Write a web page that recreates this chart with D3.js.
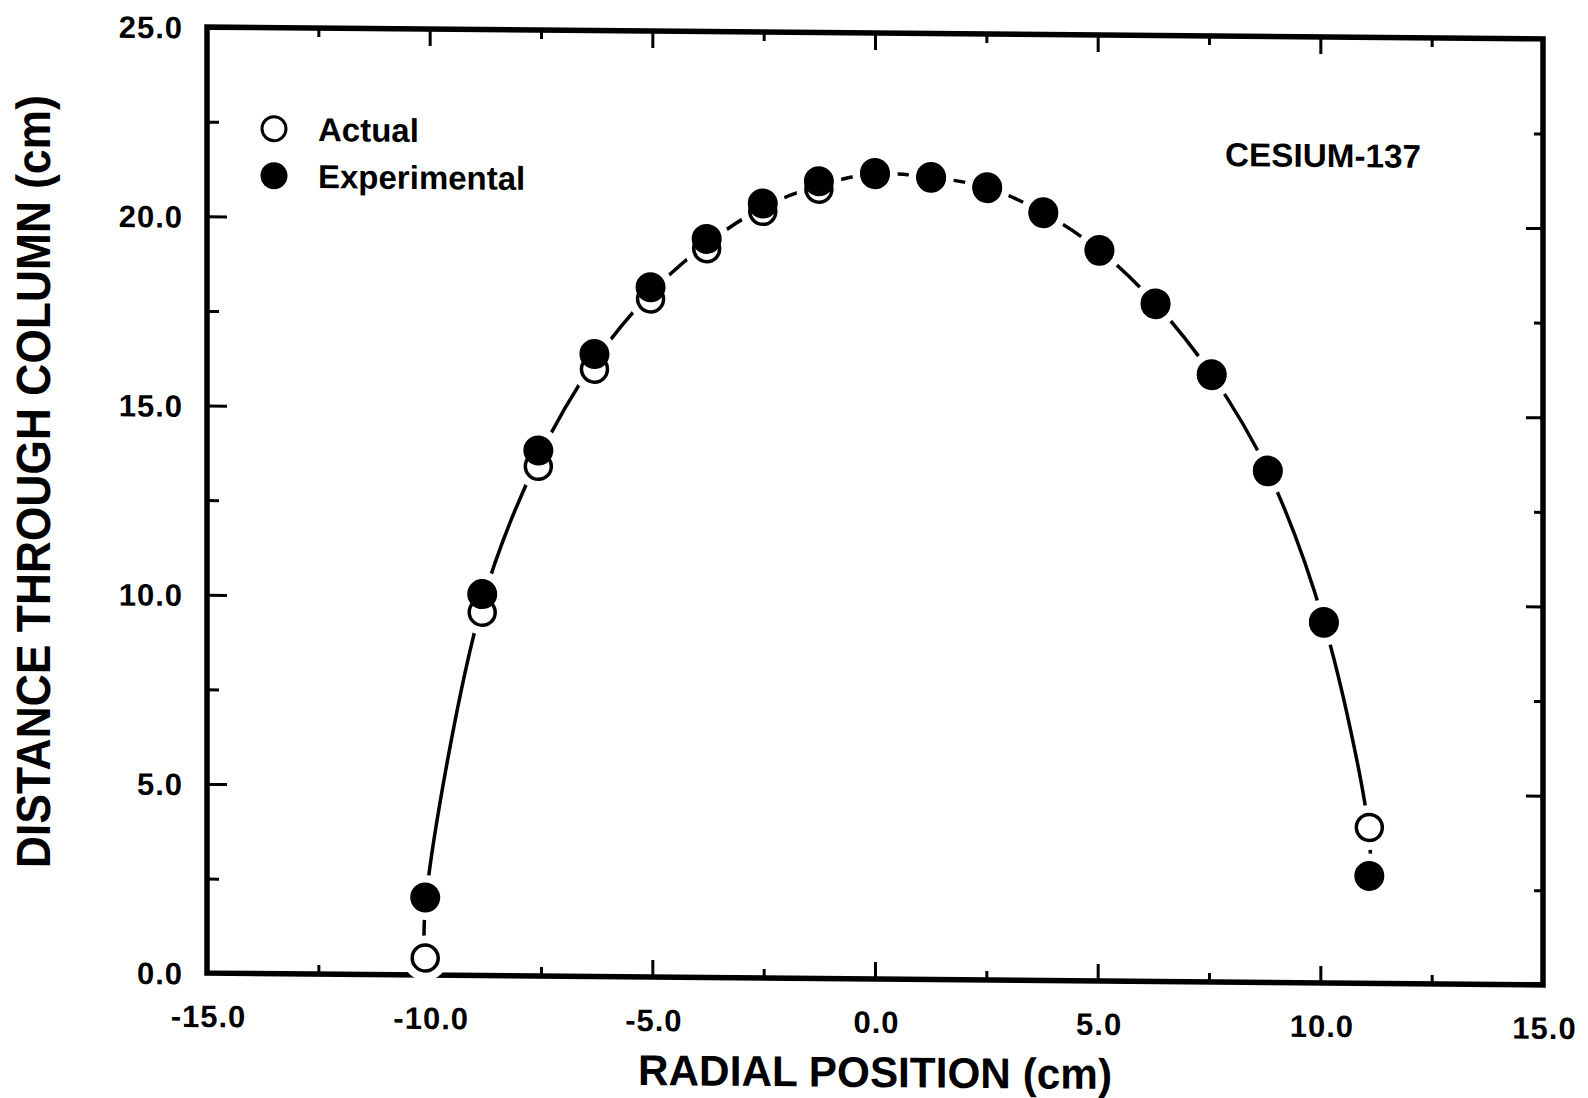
<!DOCTYPE html>
<html>
<head>
<meta charset="utf-8">
<script src="https://cdnjs.cloudflare.com/ajax/libs/d3/7.8.5/d3.min.js"></script>
<style>
  html, body { margin: 0; padding: 0; background: #fff; }
  svg { display: block; }
  .tick-label { font-family: 'Liberation Sans', Arial, sans-serif; font-weight: bold; font-size: 31px; letter-spacing: 1px; fill: #000; }
  .title { font-family: 'Liberation Sans', Arial, sans-serif; font-weight: bold; fill: #000; }
</style>
</head>
<body>
<div class="chart-container"></div>
<script>
// radial positions of the scan (cm)
const radialPositions = [-10.1, -8.82, -7.56, -6.3, -5.04, -3.78, -2.52, -1.26, 0,
                         1.26, 2.52, 3.78, 5.04, 6.3, 7.56, 8.82, 10.08, 11.1];
const actualValues = [0.45, 9.6, 13.47, 16.05, 17.92, 19.26, 20.26, 20.86, 21.26,
                      21.18, 20.92, 20.27, 19.29, 17.89, 16.03, 13.5, 9.51, 4.12];
const experimentalValues = [2.05, 10.08, 13.89, 16.45, 18.23, 19.52, 20.47, 21.07, 21.3,
                            21.21, 20.95, 20.3, 19.32, 17.92, 16.06, 13.53, 9.54, 2.84];
// the drawn curve (runs between the two sets, ends on the lowest points)
const curveX = [-10.12, -10.08, -8.82, -7.56, -6.3, -5.04, -3.78, -2.52, -1.26, 0,
                1.26, 2.52, 3.78, 5.04, 6.3, 7.56, 8.82, 10.08, 11.08, 11.12];
const curveY = [0.45, 2.05, 9.84, 13.68, 16.25, 18.07, 19.39, 20.36, 20.96, 21.28,
                21.2, 20.94, 20.29, 19.31, 17.91, 16.05, 13.52, 9.53, 4.12, 2.84];
const xTickValues = [-15, -10, -5, 0, 5, 10, 15];
const xMinorValues = [-12.5, -7.5, -2.5, 2.5, 7.5, 12.5];
const yTickValues = [0, 5, 10, 15, 20, 25];
const yMinorValues = [2.5, 7.5, 12.5, 17.5, 22.5];
const legendLabels = ['Actual', 'Experimental'];

const svgWidth = 1588;
const svgHeight = 1098;
const plot = { left: 207, right: 1543, top: 33, bottom: 979 };
const skew = 0.0088;   // the scanned page runs slightly downhill
const majorTick = 17;
const minorTick = 9;

let svg = d3.select('.chart-container').append('svg')
   .attr('width', svgWidth)
   .attr('height', svgHeight);

let cx = (plot.left + plot.right) / 2;
let root = svg.append('g')
   .attr('transform', `translate(0, ${-skew * cx}) skewY(${Math.atan(skew) * 180 / Math.PI})`);

let x = d3.scaleLinear().domain([-15, 15]).range([plot.left, plot.right]);
let y = d3.scaleLinear().domain([0, 25]).range([plot.bottom, plot.top]);
let width = plot.right - plot.left;
let height = plot.bottom - plot.top;

function tickAxis(axisFn, scale, values, size, transform) {
   let g = root.append('g')
      .attr('transform', transform)
      .call(axisFn(scale).tickValues(values).tickSizeInner(-size).tickSizeOuter(0).tickFormat(''));
   g.select('.domain').remove();
   g.selectAll('.tick line').attr('stroke', '#000').attr('stroke-width', 3);
   return g;
}

// ticks on all four sides, pointing inward
tickAxis(d3.axisBottom, x, xTickValues.slice(1, -1), majorTick, `translate(0, ${plot.bottom})`);
tickAxis(d3.axisBottom, x, xMinorValues, minorTick, `translate(0, ${plot.bottom})`);
tickAxis(d3.axisTop, x, xTickValues.slice(1, -1), majorTick, `translate(0, ${plot.top})`);
tickAxis(d3.axisTop, x, xMinorValues, minorTick, `translate(0, ${plot.top})`);
tickAxis(d3.axisLeft, y, yTickValues.slice(1, -1), majorTick + 3, `translate(${plot.left}, 0)`);
tickAxis(d3.axisLeft, y, yMinorValues, minorTick + 3, `translate(${plot.left}, 0)`);
tickAxis(d3.axisRight, y, yTickValues.slice(1, -1), majorTick, `translate(${plot.right}, 0)`);
tickAxis(d3.axisRight, y, yMinorValues, minorTick, `translate(${plot.right}, 0)`);

// frame
root.append('rect')
   .attr('x', plot.left)
   .attr('y', plot.top)
   .attr('width', width)
   .attr('height', height)
   .attr('fill', 'none')
   .attr('stroke', '#000')
   .attr('stroke-width', 5.5);

// tick labels
let xLabels = root.append('g')
   .attr('transform', `translate(0, ${plot.bottom})`)
   .call(d3.axisBottom(x).tickValues(xTickValues).tickSize(0).tickFormat(d => d.toFixed(1)));
xLabels.select('.domain').remove();
xLabels.selectAll('text')
   .attr('class', 'tick-label')
   .attr('y', 54)
   .attr('dy', null)
   .attr('dx', 1);

let yLabels = root.append('g')
   .attr('transform', `translate(${plot.left}, 0)`)
   .call(d3.axisLeft(y).tickValues(yTickValues).tickSize(0).tickFormat(d => d.toFixed(1)));
yLabels.select('.domain').remove();
yLabels.selectAll('text')
   .attr('class', 'tick-label')
   .attr('x', -24)
   .attr('dy', 11);

// axis titles
root.append('text')
   .attr('class', 'title')
   .attr('x', x(0))
   .attr('y', 1087)
   .attr('text-anchor', 'middle')
   .attr('font-size', 43)
   .attr('textLength', 474)
   .attr('lengthAdjust', 'spacingAndGlyphs')
   .text('RADIAL POSITION (cm)');

root.append('text')
   .attr('class', 'title')
   .attr('transform', `translate(50, 489) rotate(-90)`)
   .attr('text-anchor', 'middle')
   .attr('font-size', 48)
   .attr('textLength', 773)
   .attr('lengthAdjust', 'spacingAndGlyphs')
   .text('DISTANCE THROUGH COLUMN (cm)');

root.append('text')
   .attr('class', 'title')
   .attr('x', 1225)
   .attr('y', 163)
   .attr('font-size', 33)
   .attr('textLength', 196)
   .attr('lengthAdjust', 'spacingAndGlyphs')
   .text('CESIUM-137');

// curve
let line = d3.line()
   .x((d, i) => x(curveX[i]))
   .y(d => y(d))
   .curve(d3.curveCatmullRom.alpha(0.5));

root.append('path')
   .datum(curveY)
   .attr('d', line)
   .attr('fill', 'none')
   .attr('stroke', '#000')
   .attr('stroke-width', 3.5);

// white gap around each marker
let allPoints = radialPositions.map((r, i) => ({ r: r, v: actualValues[i] }))
   .concat(radialPositions.map((r, i) => ({ r: r, v: experimentalValues[i] })));

root.selectAll('.halo')
   .data(allPoints)
   .enter().append('circle')
   .attr('class', 'halo')
   .attr('cx', d => x(d.r))
   .attr('cy', d => y(d.v))
   .attr('r', 15)
   .attr('fill', '#fff')
   .attr('stroke', '#fff')
   .attr('stroke-width', 15);

root.selectAll('.actual')
   .data(actualValues)
   .enter().append('circle')
   .attr('class', 'actual')
   .attr('cx', (d, i) => x(radialPositions[i]))
   .attr('cy', d => y(d))
   .attr('r', 13)
   .attr('fill', '#fff')
   .attr('stroke', '#000')
   .attr('stroke-width', 3.5);

root.selectAll('.experimental')
   .data(experimentalValues)
   .enter().append('circle')
   .attr('class', 'experimental')
   .attr('cx', (d, i) => x(radialPositions[i]))
   .attr('cy', d => y(d))
   .attr('r', 15)
   .attr('fill', '#000');

// legend
let legend = root.selectAll('.legend')
   .data(legendLabels)
   .enter().append('g')
   .attr('class', 'legend')
   .attr('transform', (d, i) => `translate(274, ${134 + i * 47})`);

legend.append('circle')
   .attr('r', (d, i) => i === 0 ? 12 : 13.5)
   .attr('fill', (d, i) => i === 0 ? '#fff' : '#000')
   .attr('stroke', '#000')
   .attr('stroke-width', (d, i) => i === 0 ? 3 : 0);

legend.append('text')
   .attr('class', 'title')
   .attr('x', 44)
   .attr('y', 12)
   .attr('font-size', 33)
   .text(d => d);
</script>
</body>
</html>
